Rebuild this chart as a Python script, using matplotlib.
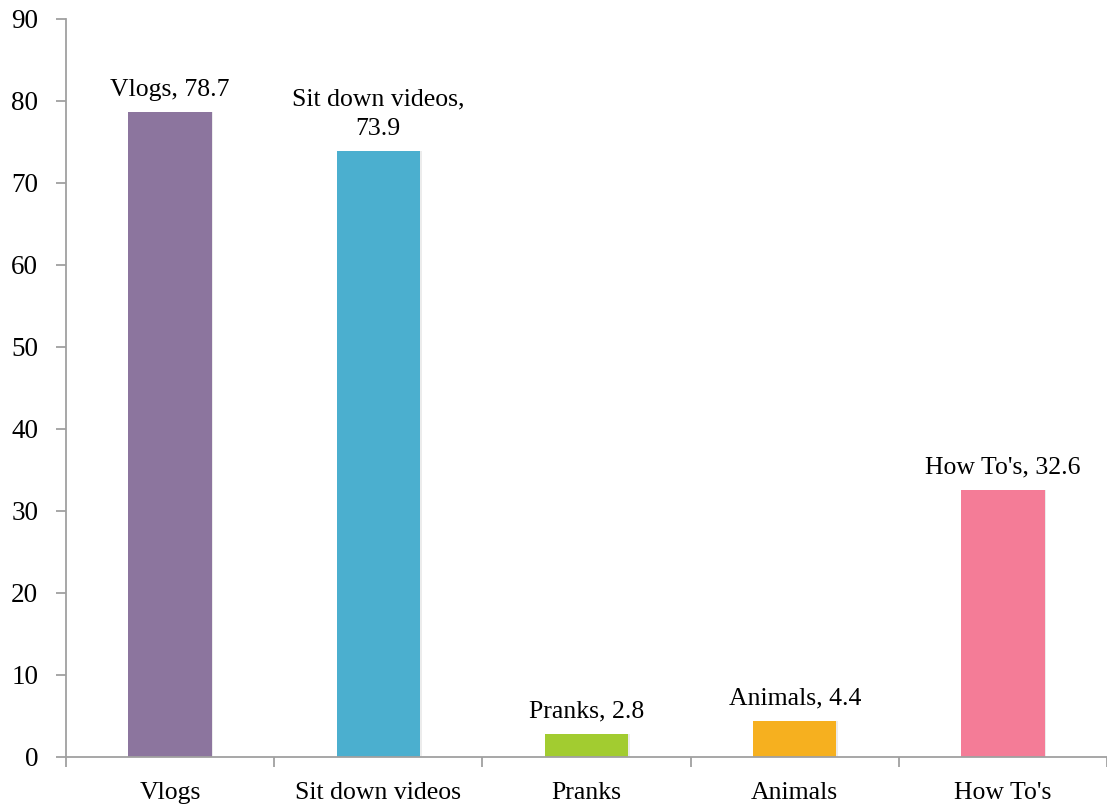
import numpy as np
import matplotlib.pyplot as plt

categories = ['Vlogs', 'Sit down videos', 'Pranks', 'Animals', "How To's"]
values = [78.7, 73.9, 2.8, 4.4, 32.6]
bar_labels = ['Vlogs, 78.7', 'Sit down videos,\n73.9', 'Pranks, 2.8', 'Animals, 4.4', "How To's, 32.6"]
colors = ['#8C759E', '#4BAFCF', '#A2CC30', '#F6B01F', '#F47C97']

plt.rcParams['font.family'] = ['Liberation Serif', 'DejaVu Serif']

fig = plt.figure(figsize=(11.07, 8.09), dpi=100)
ax = fig.add_axes([66 / 1107, 52 / 809, 1 - 66 / 1107, 738 / 809])

x = np.arange(len(categories))
ax.bar(x + 0.008, values, width=0.4, color='#ececec', zorder=1)
ax.bar(x, values, width=0.4, color=colors, zorder=2)

for xi, v, lab in zip(x, values, bar_labels):
    ax.annotate(lab, (xi, v), xytext=(0, 8), textcoords='offset points',
                ha='center', va='bottom', fontsize=18.5, linespacing=1.45)

ax.set_xlim(-0.5, len(categories) - 0.5)
ax.set_ylim(0, 90)
ax.set_yticks(range(0, 91, 10))
ax.set_xticks(x)
ax.set_xticklabels(categories, fontsize=18.5)
ax.set_xticks(np.arange(-0.5, len(categories), 1), minor=True)
ax.tick_params(axis='x', which='major', length=0, pad=18)
ax.tick_params(axis='x', which='minor', length=7, color='#a0a0a0', width=1.3)
ax.tick_params(axis='y', length=7, color='#a0a0a0', width=1.3, labelsize=19.5, pad=13)

for s in ['top', 'right']:
    ax.spines[s].set_visible(False)
for s in ['left', 'bottom']:
    ax.spines[s].set_color('#a0a0a0')
    ax.spines[s].set_linewidth(1.3)

fig.savefig('out.png', dpi=100)
